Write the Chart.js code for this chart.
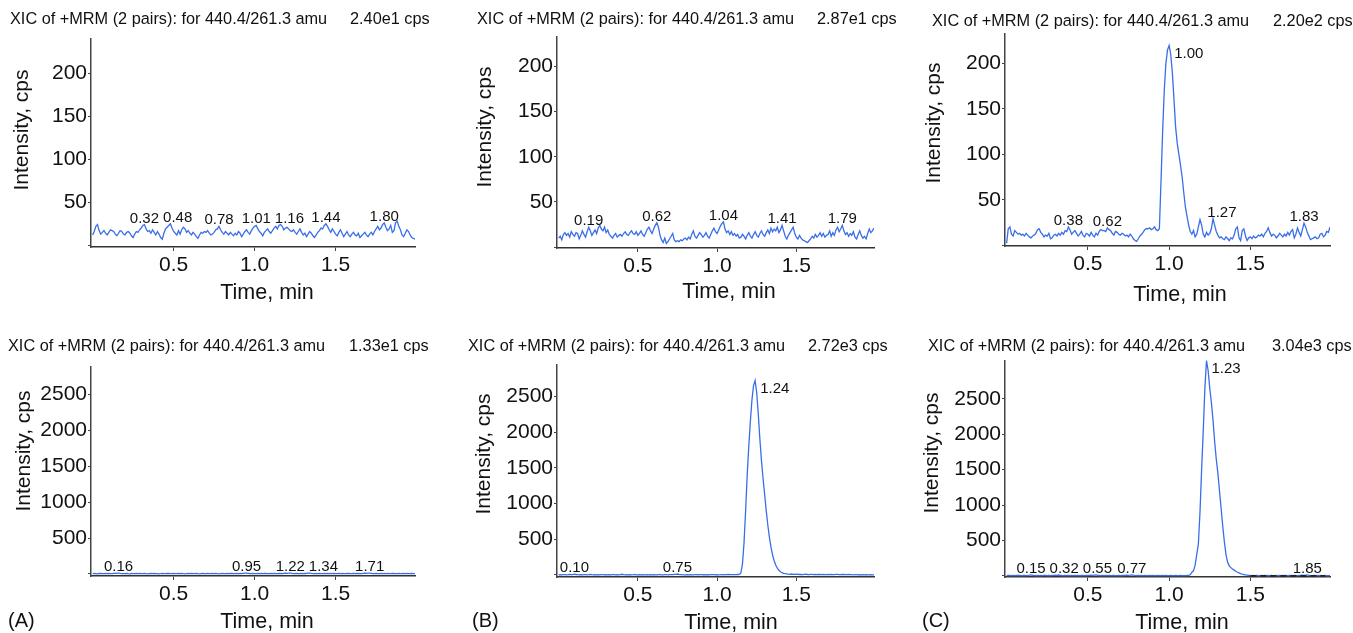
<!DOCTYPE html>
<html>
<head>
<meta charset="utf-8">
<script src="https://cdn.jsdelivr.net/npm/chart.js@4.4.1/dist/chart.umd.min.js"></script>
<style>
body{margin:0;background:#fff;width:1353px;height:633px;overflow:hidden;position:relative;font-family:"Liberation Sans",Arial,sans-serif;color:#111;}
canvas{position:absolute;}
.txt{position:absolute;white-space:nowrap;line-height:1;z-index:2;}
.titulo{font-size:16.3px;}
.ejeY{font-size:21px;transform:translate(-50%,-50%) rotate(-90deg);}
.ejeX{font-size:21.5px;transform:translate(-50%,-50%);}
.letra{font-size:20px;transform:translateY(-50%);}
</style>
</head>
<body>
<script>
// tiempos de retencion (min), comunes a los seis cromatogramas
const tiempos = [
0.00,0.01,0.02,0.03,0.04,0.05,0.06,0.07,0.08,0.09,
0.10,0.11,0.12,0.13,0.14,0.15,0.16,0.17,0.18,0.19,
0.20,0.21,0.22,0.23,0.24,0.25,0.26,0.27,0.28,0.29,
0.30,0.31,0.32,0.33,0.34,0.35,0.36,0.37,0.38,0.39,
0.40,0.41,0.42,0.43,0.44,0.45,0.46,0.47,0.48,0.49,
0.50,0.51,0.52,0.53,0.54,0.55,0.56,0.57,0.58,0.59,
0.60,0.61,0.62,0.63,0.64,0.65,0.66,0.67,0.68,0.69,
0.70,0.71,0.72,0.73,0.74,0.75,0.76,0.77,0.78,0.79,
0.80,0.81,0.82,0.83,0.84,0.85,0.86,0.87,0.88,0.89,
0.90,0.91,0.92,0.93,0.94,0.95,0.96,0.97,0.98,0.99,
1.00,1.01,1.02,1.03,1.04,1.05,1.06,1.07,1.08,1.09,
1.10,1.11,1.12,1.13,1.14,1.15,1.16,1.17,1.18,1.19,
1.20,1.21,1.22,1.23,1.24,1.25,1.26,1.27,1.28,1.29,
1.30,1.31,1.32,1.33,1.34,1.35,1.36,1.37,1.38,1.39,
1.40,1.41,1.42,1.43,1.44,1.45,1.46,1.47,1.48,1.49,
1.50,1.51,1.52,1.53,1.54,1.55,1.56,1.57,1.58,1.59,
1.60,1.61,1.62,1.63,1.64,1.65,1.66,1.67,1.68,1.69,
1.70,1.71,1.72,1.73,1.74,1.75,1.76,1.77,1.78,1.79,
1.80,1.81,1.82,1.83,1.84,1.85,1.86,1.87,1.88,1.89,
1.90,1.91,1.92,1.93,1.94,1.95,1.96,1.97,1.98,1.99
];

// intensidades (cps)
const blancoSup = [
12,16,22,24,17,13,15,17,14,12, 15,18,17,16,13,11,14,17,16,13,
12,15,16,14,11,9,13,16,15,18, 20,23,24,19,16,17,14,18,15,12,
16,13,9,7,14,19,21,23,25,20, 16,14,12,17,13,18,21,19,15,17,
14,12,15,13,10,8,12,15,14,16, 15,17,14,12,13,15,18,19,22,18,
15,13,16,14,12,15,13,11,14,12, 16,14,10,13,16,18,15,13,17,20,
22,23,19,16,14,11,15,17,19,16, 14,17,20,22,19,23,24,22,18,20,
21,19,17,16,18,15,13,16,19,15, 12,14,10,13,16,14,11,9,12,15,
17,20,19,23,25,22,18,15,19,16, 13,11,15,18,14,10,13,16,12,10,
13,15,12,11,14,9,11,13,15,12, 10,13,15,12,16,19,22,18,20,24,
26,21,17,19,23,15,17,26,28,22, 18,12,10,14,18,16,12,9,8,7
];
const blancoISSup = [
10,12,8,14,16,13,15,11,17,14, 12,16,15,9,13,18,14,11,17,22,
18,13,16,19,15,21,24,20,18,22, 16,19,14,12,10,13,15,11,13,14,
12,15,17,14,13,16,18,15,14,17, 13,15,18,14,12,16,20,22,18,15,
20,24,27,22,13,8,5,10,4,6, 9,12,15,8,6,7,6,8,7,9,
10,8,11,9,14,18,12,10,13,16, 14,11,13,16,12,10,14,18,21,17,
15,19,23,26,28,20,16,18,14,17, 13,15,12,14,10,11,14,12,9,13,
16,12,10,14,17,13,11,15,18,14, 12,16,19,15,21,17,20,18,22,16,
19,24,18,12,9,13,16,19,22,15, 11,9,13,10,8,7,6,5,7,9,
12,10,14,11,13,16,12,15,11,13, 14,18,12,16,13,19,22,17,20,24,
18,14,16,12,15,13,17,11,9,14, 18,13,10,12,9,15,20,16,18,21
];
const lloqSup = [
2,18,20,12,10,16,14,12,13,11, 12,10,13,11,9,8,10,11,13,17,
18,14,12,9,11,10,13,7,8,11, 12,10,13,11,14,12,16,15,20,17,
12,14,16,13,10,12,15,11,9,13, 12,10,14,11,9,13,11,15,17,16,
16,15,19,17,16,13,11,15,14,12, 11,13,12,10,11,9,12,10,7,5,
4,7,10,12,14,17,18,18,19,17, 18,20,17,16,18,70,125,170,200,215,
220,210,190,160,130,112,100,88,75,58, 42,32,22,15,12,16,9,12,20,28,
22,12,9,14,11,13,18,29,22,15, 11,8,9,7,6,9,7,5,8,7,
11,18,20,8,5,16,18,10,5,8, 9,7,10,8,9,11,10,12,9,13,
15,19,14,10,12,11,8,10,13,11, 9,12,10,14,11,15,17,8,12,19,
14,10,17,24,20,14,10,6,7,8, 9,7,8,12,13,9,11,15,14,20
];
const blancoInf = [
5,8,6,3,7,9,4,6,8,5, 7,4,6,9,8,11,13,9,6,4,
6,8,5,3,7,6,4,8,5,7, 4,6,9,5,3,6,8,5,7,4,
6,3,5,8,6,4,7,9,5,6, 8,5,4,7,6,9,5,3,6,8,
5,7,4,6,8,5,3,6,7,4, 6,9,5,4,7,6,8,5,3,6,
7,4,6,8,5,7,9,6,4,7, 5,8,6,9,11,13,10,7,5,8,
6,4,7,5,8,6,9,7,5,6, 8,5,7,4,6,9,7,5,8,10,
9,11,12,8,6,5,7,4,6,8, 5,7,9,11,12,8,6,4,7,5,
8,6,4,7,5,8,6,9,5,7, 4,6,8,5,7,4,6,9,7,5,
6,8,5,7,9,6,4,8,10,9, 11,12,9,6,5,7,4,6,8,5,
7,5,8,6,4,7,9,6,5,8, 6,4,7,5,8,6,4,7,5,6
];
const estandarInf = [
3,5,2,4,6,3,5,8,4,6, 12,7,4,3,5,2,4,6,3,5,
9,5,3,4,2,5,3,6,4,2, 4,3,5,2,4,6,3,5,2,4,
10,5,3,4,2,5,3,4,6,3, 2,4,3,5,2,3,4,2,5,3,
4,2,3,5,4,2,3,6,4,3, 5,4,6,8,10,14,9,6,4,3,
2,4,3,5,2,3,4,6,3,5, 4,3,5,2,4,3,5,4,6,3,
5,3,4,6,3,5,4,7,5,6, 4,6,5,7,8,30,150,450,900,1400,
1800,2150,2450,2650,2720,2550,2250,1900,1600,1350, 1130,900,700,530,390,280,200,140,95,65,
45,32,24,18,15,12,10,14,9,11, 8,12,7,10,6,9,11,7,5,8,
10,6,8,5,9,7,4,8,6,5, 7,5,9,6,4,8,10,6,5,7,
9,5,4,7,6,4,3,5,4,3, 4,3,5,2,4,3,2,4,3,2
];
const muestraInf = [
3,6,4,2,5,3,7,4,5,3, 4,6,3,5,8,12,7,4,3,5,
2,4,3,5,6,3,4,2,5,7, 9,6,11,7,4,3,5,2,4,3,
5,3,4,2,6,3,4,5,3,6, 4,5,8,6,9,12,7,4,3,5,
3,4,2,5,3,4,6,3,2,4, 3,5,4,6,8,7,9,13,8,5,
3,4,2,5,3,4,2,3,5,3, 4,2,3,5,3,2,4,3,5,2,
3,4,2,3,5,3,2,4,3,2, 3,4,5,15,50,70,150,300,450,900,
1500,2050,2650,3040,2900,2650,2450,2200,1900,1650, 1450,1200,950,700,480,300,190,140,115,95,
80,65,50,40,30,22,18,12,9,6, 4,3,5,2,4,3,2,4,3,5,
2,4,3,5,3,2,4,3,5,2, 4,3,5,2,4,6,3,5,4,3,
5,7,9,6,8,12,7,4,3,5, 2,4,3,5,3,2,4,3,2,3
];

// linea base integrada (trazo discontinuo del panel C)
const lineaBaseC = [{x:1.50,y:0},{x:1.96,y:0}];

const series = [blancoSup, blancoISSup, lloqSup, blancoInf, estandarInf, muestraInf];
const picos = [
[0.32,0.48,0.78,1.01,1.16,1.44,1.80],
[0.19,0.62,1.04,1.41,1.79],
[0.38,0.62,1.00,1.27,1.83],
[0.16,0.95,1.22,1.34,1.71],
[0.10,0.75,1.24],
[0.15,0.32,0.55,0.77,1.23,1.85]
];
const maximos = ["2.40e1 cps","2.87e1 cps","2.20e2 cps","1.33e1 cps","2.72e3 cps","3.04e3 cps"];
const tituloXIC = "XIC of +MRM (2 pairs): for 440.4/261.3 amu";
const letras = ["","","","(A)","(B)","(C)"];

const ticksYSup = [0,50,100,150,200];
const ticksYInf = [0,500,1000,1500,2000,2500];
const ticksX = [0.5,1.0,1.5];
const ejeYMin = [-2,-1,-1,-28,-28,-17];
const ejeYMax = [240,233,233,2887,2944,3040];
const ejeXMin = -0.01;
const ejeXMax = 1.99;

// geometria (px de pagina)
const areas = [
{l:91,t:37,r:415,b:247},
{l:557,t:35,r:874,b:248},
{l:1005,t:32,r:1330,b:246},
{l:91,t:365,r:415,b:576},
{l:557,t:363,r:874,b:577},
{l:1005,t:359,r:1330,b:577}
];
const textos = [
{tx:10,ty:18,cx:350,yx:20,yy:130,xx:267,xy:293,lx:0,ly:0},
{tx:477,ty:18,cx:817,yx:483,yy:127,xx:729,xy:292,lx:0,ly:0},
{tx:932,ty:20,cx:1273,yx:932,yy:123,xx:1180,xy:295,lx:0,ly:0},
{tx:8,ty:345,cx:349,yx:22,yy:451,xx:267,xy:622,lx:8,ly:620},
{tx:468,ty:345,cx:808,yx:482,yy:454,xx:731,xy:623,lx:472,ly:620},
{tx:928,ty:345,cx:1272,yx:930,yy:453,xx:1182,xy:623,lx:922,ly:620}
];

const fuente = '"Liberation Sans", Arial, sans-serif';
Chart.defaults.font.family = fuente;
Chart.defaults.color = "#111";

function ponerTexto(texto, clase, x, y){
const d = document.createElement("div");
d.className = "txt " + clase;
d.textContent = texto;
d.style.left = x + "px";
d.style.top = y + "px";
document.body.appendChild(d);
}

function crearEtiquetas(tiemposPico){
return {
id:"etiquetasPicos",
afterDatasetsDraw(chart){
const ctx = chart.ctx;
const xs = chart.scales.x;
const ys = chart.scales.y;
const datos = chart.data.datasets[0].data;
ctx.save();
ctx.font = "15px " + fuente;
ctx.fillStyle = "#111";
let finAnterior = -Infinity;
tiemposPico.forEach(t => {
const p = datos.find(d => Math.abs(d.x - t) < 0.001);
if(!p) return;
const texto = t.toFixed(2);
const ancho = ctx.measureText(texto).width;
const px = xs.getPixelForValue(t);
const py = ys.getPixelForValue(p.y);
if(p.y > ys.max * 0.5){
ctx.textAlign = "left";
ctx.textBaseline = "middle";
ctx.fillText(texto, px + 5, py + 8);
finAnterior = px + 5 + ancho;
}else{
// se desplaza a la derecha si choca con la etiqueta anterior
let izq = Math.max(px - ancho / 2, finAnterior + 4);
ctx.textAlign = "left";
ctx.textBaseline = "alphabetic";
ctx.fillText(texto, izq, py - 2);
finAnterior = izq + ancho;
}
});
ctx.restore();
}
};
}

function crearPanel(n){
const a = areas[n];
const padIzq = 95, padSup = 12, padDer = 20, altoX = 45;
const canvas = document.createElement("canvas");
canvas.width = a.r - a.l + padIzq + padDer;
canvas.height = a.b - a.t + padSup + altoX;
canvas.style.left = (a.l - padIzq) + "px";
canvas.style.top = (a.t - padSup) + "px";
document.body.appendChild(canvas);

const datasets = [{
data: tiempos.map((t,i) => ({x:t, y:series[n][i]})),
borderColor:"#3a6ee8",
borderWidth:1.3,
pointRadius:0,
tension:0,
fill:false,
order:0
}];
if(n === 5){
datasets.push({
data: lineaBaseC,
borderColor:"#222",
borderWidth:1.8,
borderDash:[6,4],
pointRadius:0,
fill:false,
order:-1
});
}
const ticksY = n < 3 ? ticksYSup : ticksYInf;

new Chart(canvas, {
type:"line",
data:{datasets:datasets},
options:{
responsive:false,
animation:false,
events:[],
layout:{padding:{top:padSup, right:padDer, left:0, bottom:0}},
plugins:{legend:{display:false}, tooltip:{enabled:false}},
scales:{
x:{
type:"linear",
min:ejeXMin,
max:ejeXMax,
afterFit(s){ s.height = altoX; },
afterBuildTicks(s){ s.ticks = ticksX.map(v => ({value:v})); },
ticks:{callback:v => Number(v).toFixed(1), autoSkip:false, maxRotation:0, padding:2, color:"#111", font:{size:21}},
grid:{drawOnChartArea:false, tickLength:4, color:"#444"},
border:{color:"#333", width:1.6}
},
y:{
min:ejeYMin[n],
max:ejeYMax[n],
afterFit(s){ s.width = padIzq; },
afterBuildTicks(s){ s.ticks = ticksY.map(v => ({value:v})); },
ticks:{callback:v => v === 0 ? "" : String(v), autoSkip:false, padding:1, color:"#111", font:{size:21}},
grid:{drawOnChartArea:false, tickLength:3, color:"#444"},
border:{color:"#444", width:1.5}
}
}
},
plugins:[crearEtiquetas(picos[n])]
});

const tx = textos[n];
ponerTexto(tituloXIC, "titulo", tx.tx, tx.ty - 8);
ponerTexto(maximos[n], "titulo", tx.cx, tx.ty - 8);
ponerTexto("Intensity, cps", "ejeY", tx.yx, tx.yy);
ponerTexto("Time, min", "ejeX", tx.xx, tx.xy);
if(letras[n]) ponerTexto(letras[n], "letra", tx.lx, tx.ly);
}

for(let n = 0; n < 6; n++) crearPanel(n);
</script>
</body>
</html>
